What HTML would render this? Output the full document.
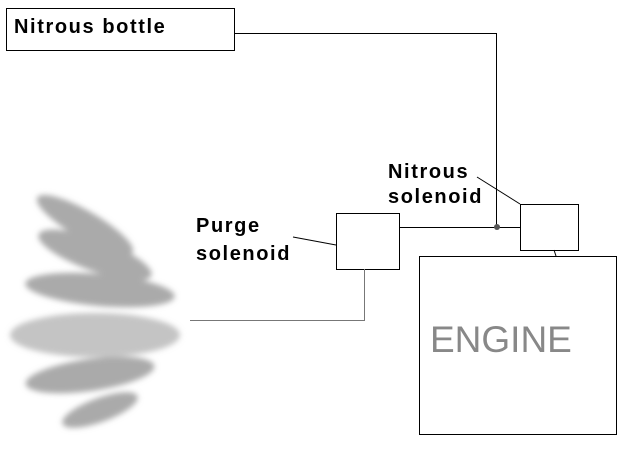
<!DOCTYPE html>
<html><head><style>body{margin:0;background:#fff}svg{display:block}text{font-family:"Liberation Sans",sans-serif;font-weight:bold}</style></head><body>
<svg width="639" height="468" viewBox="0 0 639 468">
<defs><filter id="b" x="-20%" y="-20%" width="140%" height="140%"><feGaussianBlur stdDeviation="3"/></filter></defs>
<g filter="url(#b)" fill="#aaa">
<ellipse cx="85" cy="225" rx="55" ry="14" transform="rotate(30 85 225)"/>
<ellipse cx="95" cy="255" rx="60" ry="16" transform="rotate(20 95 255)"/>
<ellipse cx="100" cy="290" rx="75" ry="16" transform="rotate(5 100 290)"/>
<ellipse cx="95" cy="335" rx="85" ry="22" fill="#c4c4c4"/>
<ellipse cx="90" cy="375" rx="65" ry="16" transform="rotate(-8 90 375)"/>
<ellipse cx="100" cy="410" rx="40" ry="12" transform="rotate(-20 100 410)"/>
</g>
<g fill="none" stroke="#000" stroke-width="1">
<rect x="6.5" y="8.5" width="228" height="42"/>
<polyline points="234,33.5 496.5,33.5 496.5,227"/>
<line x1="399" y1="227.5" x2="520" y2="227.5"/>
<rect x="336.5" y="213.5" width="63" height="56"/>
<rect x="520.5" y="204.5" width="58" height="46"/>
<rect x="419.5" y="256.5" width="197" height="178"/>
<line x1="554" y1="250" x2="556" y2="256"/>
<polyline points="364.5,269 364.5,320.5 190,320.5" stroke="#777"/>
<line x1="293" y1="237" x2="336" y2="245"/>
<line x1="477" y1="177" x2="520" y2="204"/>
</g>
<circle cx="497" cy="227" r="3" fill="#555"/>
<g font-size="20" letter-spacing="1.6">
<text x="14" y="33">Nitrous bottle</text>
<text x="196" y="232">Purge</text>
<text x="196" y="260">solenoid</text>
<text x="388" y="178">Nitrous</text>
<text x="388" y="203">solenoid</text>
</g>
<text x="430" y="352" font-size="37" fill="#888" style="font-weight:normal">ENGINE</text>
</svg>
</body></html>
